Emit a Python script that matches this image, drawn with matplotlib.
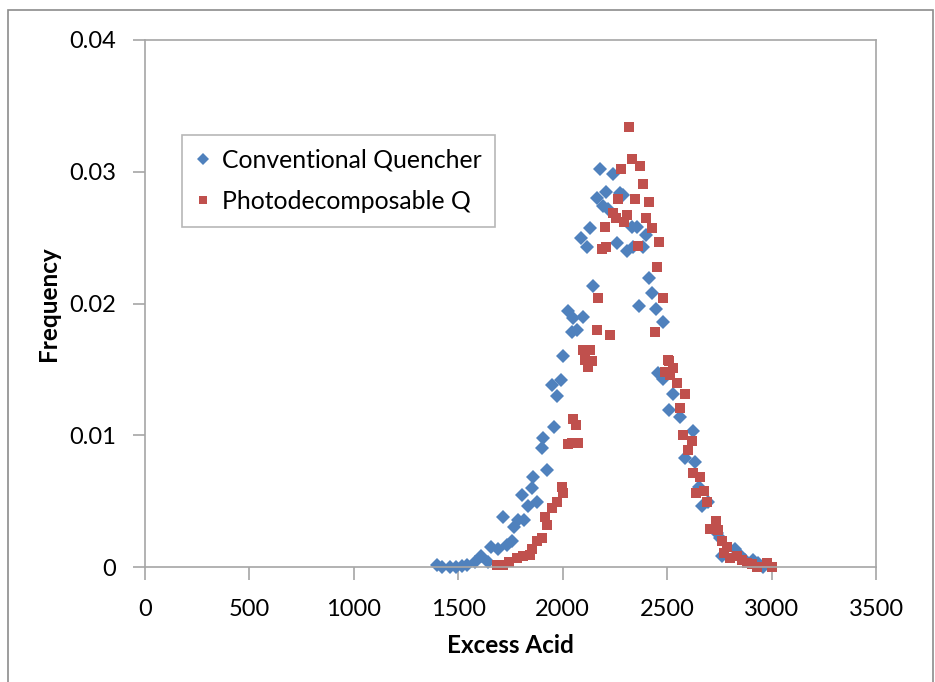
import numpy as np
import matplotlib
matplotlib.use("Agg")
import matplotlib.pyplot as plt
from matplotlib.patches import Rectangle

# conventional quencher (blue diamonds)
conv_x = [1400, 1424, 1458, 1491, 1520, 1544, 1578, 1611, 1640, 1659, 1688, 1731,
          1755, 1712, 1769, 1784, 1817, 1803, 1832, 1851, 1875, 1856, 1923, 1899,
          1908, 1956, 1947, 1990, 1971, 2000, 2024, 2047, 2095, 2043, 2067,
          2177, 2239, 2206, 2163, 2273, 2287, 2191, 2215, 2129, 2086, 2115, 2259,
          2306, 2330, 2354, 2398, 2383, 2335, 2143, 2412, 2426, 2364, 2445, 2479,
          2455, 2479, 2527, 2508, 2561, 2623, 2585, 2633, 2652, 2695, 2666, 2738,
          2752, 2762, 2824, 2848, 2872, 2911, 2935, 2959]
conv_y = [0.00015, 0.0, 0.0, 0.0, 0.00008, 0.00015, 0.0004, 0.0008, 0.0004, 0.0015,
          0.0014, 0.0017, 0.0020, 0.0038, 0.0030, 0.0036, 0.0036, 0.0055, 0.0046,
          0.0060, 0.0049, 0.0068, 0.0074, 0.0090, 0.0098, 0.0106, 0.0138, 0.0142,
          0.0130, 0.0160, 0.0194, 0.0189, 0.0190, 0.0178, 0.0180,
          0.0302, 0.0298, 0.0285, 0.0280, 0.0284, 0.0282, 0.0274, 0.0272, 0.0257,
          0.0250, 0.0243, 0.0246, 0.0240, 0.0258, 0.0258, 0.0252, 0.0243, 0.0243,
          0.0213, 0.0219, 0.0208, 0.0198, 0.0196, 0.0186,
          0.0147, 0.0143, 0.0131, 0.0119, 0.0114, 0.0103, 0.0083, 0.0080, 0.0061,
          0.0049, 0.0046, 0.0026, 0.0022, 0.0008, 0.0014, 0.0009, 0.0005, 0.0005,
          0.0003, 0.0]

# photodecomposable quencher (red squares)
pdq_x = [1683, 1712, 1745, 1779, 1808, 1841, 1851, 1875, 1899, 1923, 1913, 1947,
         1971, 2000, 1995, 2043, 2024, 2071, 2047, 2062, 2095, 2129, 2105, 2138,
         2119,
         2316, 2330, 2369, 2278, 2383, 2263, 2345, 2412, 2239, 2254, 2306, 2292,
         2398, 2426, 2201, 2460, 2359, 2206, 2187, 2450, 2167, 2479, 2163, 2225,
         2441, 2503,
         2508, 2527, 2489, 2513, 2546, 2585, 2561, 2575, 2618, 2599, 2623, 2656,
         2676, 2637, 2690, 2733, 2704, 2743, 2762, 2786, 2772, 2800, 2834, 2858,
         2882, 2906, 2930, 2978, 3002]
pdq_y = [0.00015, 0.00015, 0.0004, 0.0007, 0.0008, 0.0009, 0.0014, 0.0020, 0.0022,
         0.0032, 0.0038, 0.0045, 0.0049, 0.0056, 0.0061, 0.0094, 0.0093, 0.0094,
         0.0112, 0.0108, 0.0165, 0.0165, 0.0157, 0.0156, 0.0152,
         0.0334, 0.0310, 0.0304, 0.0302, 0.0291, 0.0279, 0.0279, 0.0277, 0.0269,
         0.0265, 0.0267, 0.0262, 0.0265, 0.0257, 0.0258, 0.0247, 0.0244, 0.0243,
         0.0241, 0.0228, 0.0204, 0.0204, 0.0180, 0.0176, 0.0178, 0.0157,
         0.0156, 0.0151, 0.0148, 0.0146, 0.0140, 0.0131, 0.0121, 0.0100, 0.0096,
         0.0089, 0.0071, 0.0068, 0.0058, 0.0056, 0.0049, 0.0035, 0.0029, 0.0028,
         0.0020, 0.0015, 0.0011, 0.0007, 0.0008, 0.0005, 0.0003, 0.0002, 0.0,
         0.0003, 0.0]

x_ticks = [0, 500, 1000, 1500, 2000, 2500, 3000, 3500]
y_ticks = [0, 0.01, 0.02, 0.03, 0.04]
y_labels = ["0", "0.01", "0.02", "0.03", "0.04"]

blue = "#4F81BD"
red = "#C0504D"
axis_gray = "#A6A6A6"

plt.rcParams["font.family"] = ["Lato", "DejaVu Sans"]

fig = plt.figure(figsize=(9.35, 6.82), dpi=100)
W, H = 935.0, 682.0
ax = fig.add_axes([145 / W, 1 - 567 / H, (876 - 145) / W, (567 - 40) / H])

# outer chart border
fig.patches.append(Rectangle((7.5 / W, -0.01), (933 - 7.5) / W, 1 - 10 / H + 0.01,
                             transform=fig.transFigure, fill=False,
                             edgecolor="#8C8C8C", linewidth=1.2))

ax.plot(conv_x, conv_y, linestyle="none", marker="D", markersize=7.5,
        color=blue, markeredgewidth=0, label="Conventional Quencher", clip_on=False)
ax.plot(pdq_x, pdq_y, linestyle="none", marker="s", markersize=7.6,
        color=red, markeredgewidth=0, label="Photodecomposable Q", clip_on=False)

ax.set_xlim(0, 3500)
ax.set_ylim(0, 0.04)
ax.set_xticks(x_ticks)
ax.set_xticklabels([str(v) for v in x_ticks])
ax.set_yticks(y_ticks)
ax.set_yticklabels(y_labels)

for s in ax.spines.values():
    s.set_color(axis_gray)
    s.set_linewidth(1.2)
ax.tick_params(direction="out", length=9, width=1.2, color=axis_gray,
               labelsize=17, labelcolor="black")
ax.tick_params(axis="x", pad=14)
ax.tick_params(axis="y", pad=12)

ax.set_xlabel("Excess Acid", fontsize=17.5, fontweight="bold", labelpad=10)
ax.set_ylabel("Frequency", fontsize=17.5, fontweight="bold", labelpad=6)

leg = ax.legend(loc="upper left", bbox_to_anchor=(37 / 731, 1 - 95 / 527),
                fontsize=17.8, frameon=True, fancybox=False, handlelength=0.6,
                handletextpad=0.45, borderpad=0.55, labelspacing=0.75,
                markerscale=0.85, borderaxespad=0)
leg.get_frame().set_edgecolor(axis_gray)
leg.get_frame().set_linewidth(1.2)

fig.savefig("out.png", dpi=100)
